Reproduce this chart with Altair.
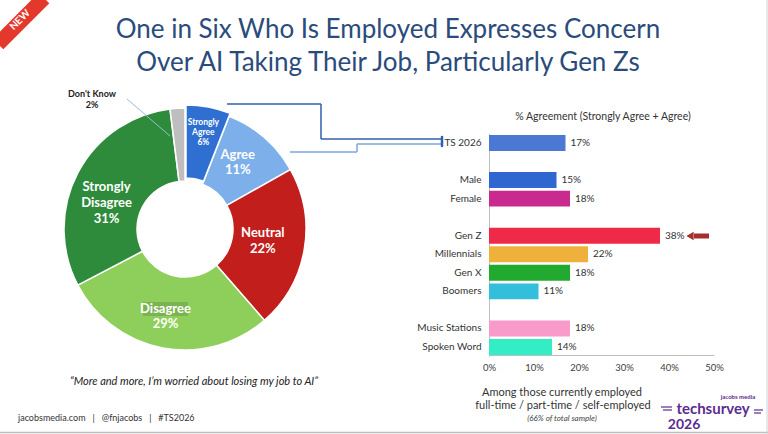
import math
import altair as alt
import pandas as pd

W, H = 768, 434
FONT = "Lato"
NB = "\u00a0"

# ---------------- data ----------------
title_lines = ["One in Six Who Is Employed Expresses Concern",
               "Over AI Taking Their Job, Particularly Gen Zs"]

pie_cats = ["Strongly Agree", "Agree", "Neutral", "Disagree", "Strongly Disagree", "Don't Know"]
pie_vals = [6, 11, 22, 29, 31, 2]
pie_colors = ["#2F6FD1", "#7DB0EA", "#C21E1C", "#8ECF5B", "#2E8B3B", "#BEBEBE"]

bar_groups = ["TS 2026", "Male", "Female", "Gen Z", "Millennials", "Gen X", "Boomers",
              "Music Stations", "Spoken Word"]
bar_vals = [17, 15, 18, 38, 22, 18, 11, 18, 14]
bar_colors = ["#4A78D2", "#2F66CF", "#C92A90", "#EE2A48", "#F0B13C", "#22AA30", "#33BEDB",
              "#F89BCB", "#33EDC6"]
slots = ["TS 2026", " ", "Male", "Female", "  ", "Gen Z", "Millennials", "Gen X", "Boomers",
         "   ", "Music Stations", "Spoken Word"]
x_ticks = [0, 10, 20, 30, 40, 50]

bar_header = "% Agreement (Strongly Agree + Agree)"
bar_notes = ["Among those currently employed", "full-time / part-time / self-employed"]
bar_note_small = "(66% of total sample)"
quote = "\u201cMore and more, I\u2019m worried about losing my job to AI\u201d"
footer_parts = ["jacobsmedia.com", "@fnjacobs", "#TS2026"]
logo_small = "jacobs media"
logo_main = "techsurvey"
logo_year = "2026"
ribbon_text = "NEW"

footer = (NB * 3 + "|" + NB * 3).join(footer_parts)

# ---------------- helpers ----------------
def txt(s, x, y, size=10, color="#333333", weight="normal", style="normal", align="center",
        angle=0, font=FONT):
    return alt.Chart(pd.DataFrame({"t": [s]})).mark_text(
        fontSize=size, color=color, fontWeight=weight, fontStyle=style, align=align,
        baseline="middle", angle=angle, font=font
    ).encode(text="t:N", x=alt.value(x), y=alt.value(y))

def seg(x1, y1, x2, y2, color, width=1.5, cap="butt"):
    return alt.Chart(pd.DataFrame({"k": [0]})).mark_rule(
        color=color, strokeWidth=width, strokeCap=cap
    ).encode(x=alt.value(x1), y=alt.value(y1), x2=alt.value(x2), y2=alt.value(y2))

# ---------------- donut ----------------
CX, CY = 185, 229
total = sum(pie_vals)
pie_df = pd.DataFrame({
    "cat": pie_cats,
    "value": pie_vals,
    "order": list(range(len(pie_cats))),
    "label": [c.replace(" ", "\n") + "\n" + f"{v}%" for c, v in zip(pie_cats, pie_vals)],
})
theta_scale = alt.Scale(domain=[0, total], range=[0, 2 * math.pi])
pie_color = alt.Color("cat:N", scale=alt.Scale(domain=pie_cats, range=pie_colors), legend=None)

base = alt.Chart(pie_df).transform_window(
    end="sum(value)", sort=[alt.SortField("order")], frame=[None, 0]
).transform_calculate(
    start="datum.end - datum.value", mid="datum.end - datum.value / 2"
)

arcs = base.transform_filter(alt.datum.cat != "Strongly Agree").mark_arc(
    radius=121, innerRadius=48, stroke="white", strokeWidth=1.5
).encode(
    theta=alt.Theta("start:Q", scale=theta_scale, stack=False), theta2="end:Q",
    color=pie_color, x=alt.value(CX), y=alt.value(CY)
)
arc_sa = base.transform_filter(alt.datum.cat == "Strongly Agree").mark_arc(
    radius=121, innerRadius=48, stroke="white", strokeWidth=1.5
).encode(
    theta=alt.Theta("start:Q", scale=theta_scale, stack=False), theta2="end:Q",
    color=pie_color, x=alt.value(CX + 1), y=alt.value(CY - 3)
)

# darker highlight behind the "Disagree" word (as in the slide)
disagree_box = alt.Chart(pd.DataFrame({"k": [0]})).mark_rect(
    color="#74A94F", opacity=0.75
).encode(x=alt.value(143), x2=alt.value(188), y=alt.value(302), y2=alt.value(316))

# (category, radius, font size, line height, dx, dy)
label_specs = [
    ("Strongly Agree", 99, 8.5, 10, 0, -10),
    ("Agree", 85, 13, 15, -3, -10),
    ("Neutral", 79, 13, 16, 0, -9),
    ("Disagree", 89, 13, 15, -3, -7),
    ("Strongly Disagree", 84, 13, 16, -4, -3),
]
pie_labels = []
for cat, r, fs, lh, dx, dy in label_specs:
    pie_labels.append(
        base.transform_filter(alt.datum.cat == cat).mark_text(
            radius=r, fontSize=fs, fontWeight="bold", color="white", lineBreak="\n",
            lineHeight=lh, font=FONT, baseline="middle", dx=dx, dy=dy
        ).encode(
            theta=alt.Theta("mid:Q", scale=theta_scale, stack=False), text="label:N",
            x=alt.value(CX), y=alt.value(CY)
        )
    )

dk = pie_df[pie_df["cat"] == "Don't Know"].iloc[0]
dont_know = [
    txt(dk["cat"], 92, 94, size=9, color="#222222", weight="bold"),
    txt(f"{dk['value']}%", 92, 105, size=9, color="#222222", weight="bold"),
    seg(127, 99, 170, 136, "#9ABBD9", 1),
]

# ---------------- bars ----------------
bar_df = pd.DataFrame({"group": bar_groups, "value": bar_vals,
                       "label": [f"{v}%" for v in bar_vals]})
xs = alt.Scale(domain=[0, 50], range=[489, 714])
ys = alt.Scale(domain=slots, range=[133.7, 356.3], paddingInner=0.14, paddingOuter=0.07)

bars = alt.Chart(bar_df).mark_bar().encode(
    x=alt.X("value:Q", scale=xs, axis=alt.Axis(
        values=x_ticks, labelExpr="datum.value + '%'", ticks=False, grid=False,
        domainColor="#BFBFBF", labelColor="#404040", labelFontSize=9.5, labelFont=FONT,
        labelPadding=7, labelFlush=False, offset=-(H - 355), title=None)),
    y=alt.Y("group:N", scale=ys, axis=alt.Axis(
        ticks=False, grid=False, domainColor="#BFBFBF", labelColor="#333333",
        labelFontSize=10, labelFont=FONT, labelPadding=8, offset=-489, title=None)),
    color=alt.Color("group:N", scale=alt.Scale(domain=bar_groups, range=bar_colors), legend=None),
)
bar_text = alt.Chart(bar_df).mark_text(
    align="left", dx=5, fontSize=10, color="#333333", font=FONT, baseline="middle"
).encode(x="value:Q", y="group:N", text="label:N")

# arrow pointing at Gen Z
arrow = [
    seg(694, 236, 709, 236, "#A3302C", 5),
    alt.Chart(pd.DataFrame({"k": [0]})).mark_point(
        shape="triangle-left", filled=True, color="#A3302C", size=70, opacity=1
    ).encode(x=alt.value(690), y=alt.value(236)),
]

# connectors from donut to TS 2026
DARK, LIGHT = "#2F5FAF", "#7BA7E0"
connectors = [
    seg(227, 104, 321, 104, DARK), seg(321, 104, 321, 139, DARK), seg(321, 139, 442, 139, DARK),
    seg(290, 152, 357, 152, LIGHT), seg(357, 152, 357, 144, LIGHT), seg(357, 144, 442, 144, LIGHT),
    seg(442, 137, 442, 146, DARK, 2.5, "round"),
]

# ---------------- texts ----------------
PURPLE = "#5B2C91"
texts = [
    txt(title_lines[0], 388, 30, size=26, color="#2A4B7C"),
    txt(title_lines[1], 388, 63, size=26, color="#2A4B7C"),
    txt(bar_header, 603, 117, size=10.5, color="#333333"),
    txt(bar_notes[0], 562, 393, size=11, color="#333333"),
    txt(bar_notes[1], 563, 406, size=11, color="#333333"),
    txt(bar_note_small, 562, 419, size=8, color="#444444", style="italic"),
    txt(quote, 194, 382, size=11, color="#222222", style="italic"),
    txt(footer, 18, 418, size=9, color="#333333", align="left"),
    txt(logo_small, 738, 397, size=6, color=PURPLE, weight="bold"),
    txt(logo_main, 713, 409, size=15, color=PURPLE, weight="bold"),
    txt(logo_year, 684, 425, size=14, color=PURPLE, weight="bold"),
]
logo_lines = [
    seg(661, 407, 672, 407, PURPLE, 1.2), seg(663, 410, 672, 410, PURPLE, 1.2),
    seg(754, 410, 763, 410, PURPLE, 1.2), seg(754, 413, 761, 413, PURPLE, 1.2),
]

ribbon = [
    seg(-2, 44, 44, -2, "#E4382C", 15),
    txt(ribbon_text, 20, 20, size=10, color="white", weight="bold", angle=315),
]

frame = [
    seg(0, 432.5, W, 432.5, "#BDBDBD", 1.5),
    seg(767, 0, 767, H, "#D0D0D0", 1),
]

chart = alt.layer(
    *ribbon, *frame, *connectors, arcs, arc_sa, disagree_box, *pie_labels, *dont_know,
    bars, bar_text, *arrow, *logo_lines, *texts
).resolve_scale(color="independent").properties(
    width=W, height=H, padding=0, autosize=alt.AutoSizeParams(type="none")
).configure_view(stroke=None)

chart.save("out.html", embed_options={"renderer": "svg", "actions": False})
